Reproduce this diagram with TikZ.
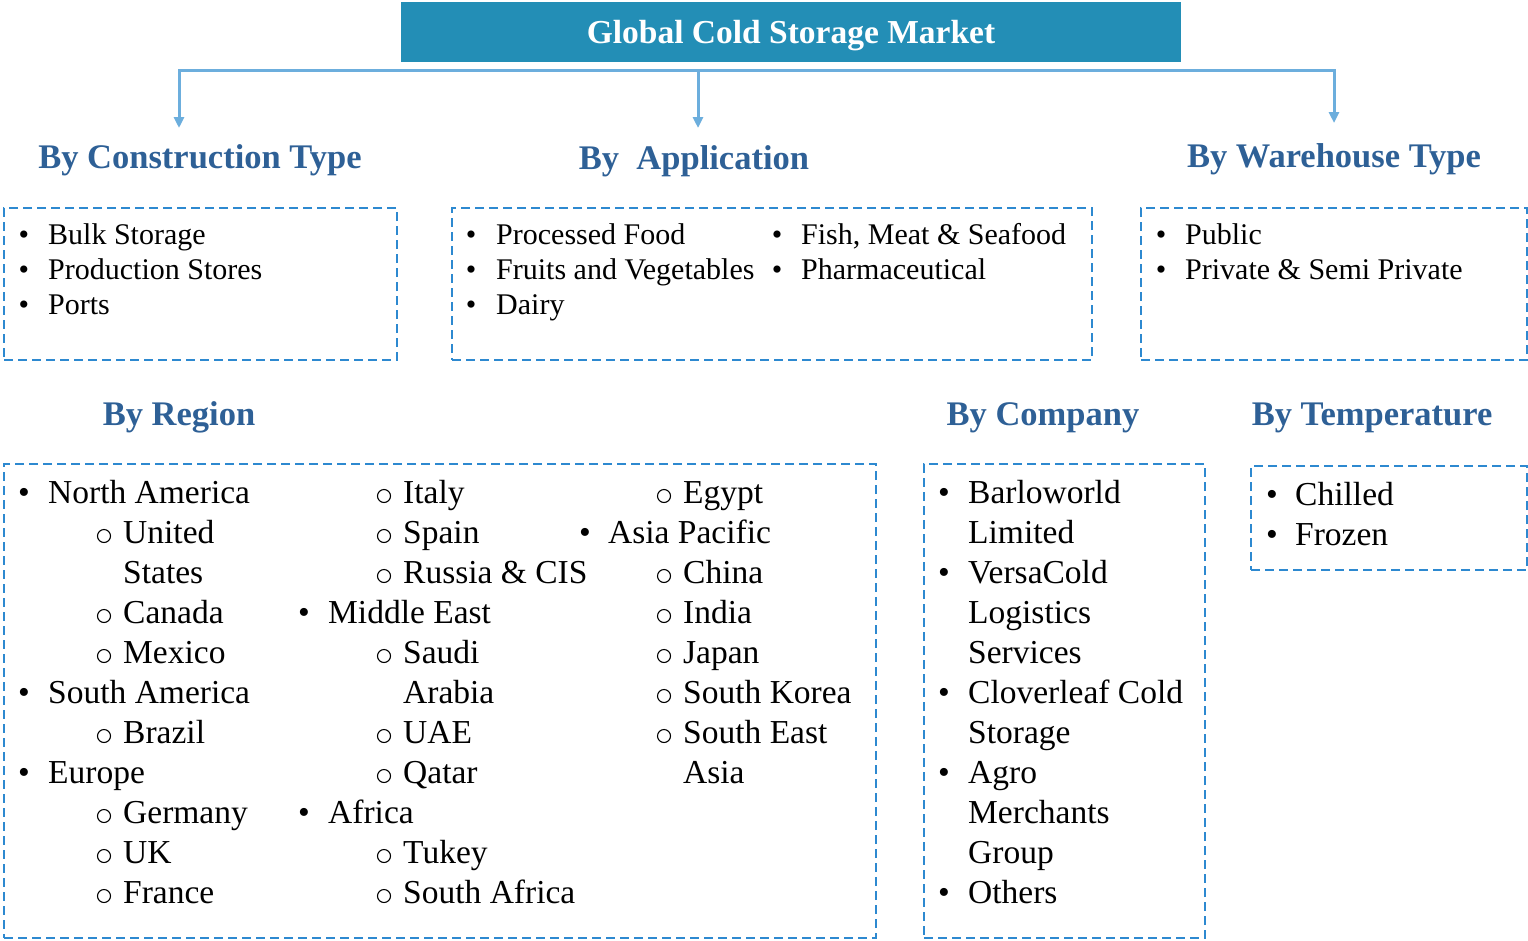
\documentclass[tikz,border=0pt]{standalone}
\usepackage{fontspec}
\setmainfont{Liberation Serif}
\usetikzlibrary{positioning, arrows.meta}

\definecolor{titlebg}{RGB}{35,142,182}
\definecolor{headblue}{RGB}{46,96,150}
\definecolor{linkblue}{RGB}{108,174,221}
\definecolor{dashblue}{RGB}{45,137,208}

\tikzset{
  titlebox/.style={fill=titlebg, text=white, font=\fontsize{33.5}{38}\selectfont\bfseries,
    minimum width=780pt, minimum height=60pt, text height=22pt, text depth=0pt, inner sep=0pt},
  link/.style={draw=linkblue, line width=3pt, -{Triangle[length=11pt,width=10pt]}},
  head/.style={font=\fontsize{34.5}{40}\selectfont\bfseries, text=headblue, inner sep=0pt, anchor=base},
  dbox/.style={draw=dashblue, line width=2pt, dash pattern=on 9pt off 5pt, inner sep=0pt},
  small/.style={font=\fontsize{30}{35}\selectfont, inner sep=0pt, anchor=base west},
  big/.style={font=\fontsize{33.5}{40}\selectfont, inner sep=0pt, anchor=base west},
  bulletmark/.style={anchor=base},
  submark/.style={circle, draw, line width=1.1pt, minimum size=13pt, inner sep=0pt}
}

\begin{document}
\begin{tikzpicture}[x=1pt, y=-1pt]
  \useasboundingbox (0,0) rectangle (1528,940);

  % title and connectors
  \node[titlebox] (title) at (791,32) {Global Cold Storage Market};
  \coordinate (busM) at (698,70);
  \coordinate (tipCon) at (179,128);
  \coordinate (tipApp) at (698,128);
  \coordinate (tipWare) at (1334,123);
  \draw[link] (busM) -| (tipCon);
  \draw[link] (busM) -- (tipApp);
  \draw[link] (busM) -| (tipWare);

  % headings
  \node[head] (hCon) at (200,168) {By Construction Type};
  \node[head] (hApp) at (694,169) {By\ \ Application};
  \node[head] (hWare) at (1334,167) {By Warehouse Type};
  \node[head] (hReg) at (179,425) {By Region};
  \node[head] (hComp) at (1043,425) {By Company};
  \node[head] (hTemp) at (1372,425) {By Temperature};

  % dashed boxes
  \node[dbox, minimum width=393pt, minimum height=152pt] (conBox) at (200.5,284) {};
  \node[dbox, minimum width=640pt, minimum height=152pt] (appBox) at (772,284) {};
  \node[dbox, minimum width=386pt, minimum height=152pt] (wareBox) at (1334,284) {};
  \node[dbox, minimum width=872pt, minimum height=474pt] (regBox) at (440,701) {};
  \node[dbox, minimum width=281pt, minimum height=474pt] (compBox) at (1064.5,701) {};
  \node[dbox, minimum width=276pt, minimum height=104pt] (tempBox) at (1389,518) {};

  % construction type
  \foreach \y/\t [count=\i] in {244/Bulk Storage, 279/Production Stores, 314/Ports}{
    \node[small, bulletmark] (conDot\i) at (24,\y) {\textbullet};
    \node[small] (con\i) at (48,\y) {\t};
  }

  % application
  \foreach \y/\t [count=\i] in {244/Processed Food, 279/Fruits and Vegetables, 314/Dairy}{
    \node[small, bulletmark] (appDot\i) at (471,\y) {\textbullet};
    \node[small] (app\i) at (496,\y) {\t};
  }
  \foreach \y/\t [count=\i] in {244/{Fish, Meat \& Seafood}, 279/Pharmaceutical}{
    \node[small, bulletmark] (appRDot\i) at (777,\y) {\textbullet};
    \node[small] (appR\i) at (801,\y) {\t};
  }

  % warehouse type
  \foreach \y/\t [count=\i] in {244/Public, 279/Private \& Semi Private}{
    \node[small, bulletmark] (wareDot\i) at (1161,\y) {\textbullet};
    \node[small] (ware\i) at (1185,\y) {\t};
  }

  % region, column 1
  \foreach \y/\t [count=\i] in {503/North America, 703/South America, 783/Europe}{
    \node[big, bulletmark] (regADot\i) at (24,\y) {\textbullet};
    \node[big] (regA\i) at (48,\y) {\t};
  }
  \foreach \y/\t [count=\i] in {543/United, 623/Canada, 663/Mexico, 743/Brazil,
      823/Germany, 863/UK, 903/France}{
    \node[submark] (regAo\i) at (104,\y-7) {};
    \node[big] (regAs\i) at (123,\y) {\t};
  }
  \node[big] (regAc1) at (123,583) {States};

  % region, column 2
  \foreach \y/\t [count=\i] in {623/Middle East, 823/Africa}{
    \node[big, bulletmark] (regBDot\i) at (304,\y) {\textbullet};
    \node[big] (regB\i) at (328,\y) {\t};
  }
  \foreach \y/\t [count=\i] in {503/Italy, 543/Spain, 583/Russia \& CIS, 663/Saudi,
      743/UAE, 783/Qatar, 863/Tukey, 903/South Africa}{
    \node[submark] (regBo\i) at (384,\y-7) {};
    \node[big] (regBs\i) at (403,\y) {\t};
  }
  \node[big] (regBc1) at (403,703) {Arabia};

  % region, column 3
  \node[big, bulletmark] (regCDot1) at (585,543) {\textbullet};
  \node[big] (regC1) at (608,543) {Asia Pacific};
  \foreach \y/\t [count=\i] in {503/Egypt, 583/China, 623/India, 663/Japan,
      703/South Korea, 743/South East}{
    \node[submark] (regCo\i) at (664,\y-7) {};
    \node[big] (regCs\i) at (683,\y) {\t};
  }
  \node[big] (regCc1) at (683,783) {Asia};

  % company
  \foreach \y/\t [count=\i] in {503/Barloworld, 583/VersaCold, 703/Cloverleaf Cold,
      783/Agro, 903/Others}{
    \node[big, bulletmark] (compDot\i) at (944,\y) {\textbullet};
    \node[big] (comp\i) at (968,\y) {\t};
  }
  \foreach \y/\t [count=\i] in {543/Limited, 623/Logistics, 663/Services, 743/Storage,
      823/Merchants, 863/Group}{
    \node[big] (compc\i) at (968,\y) {\t};
  }

  % temperature
  \foreach \y/\t [count=\i] in {505/Chilled, 545/Frozen}{
    \node[big, bulletmark] (tempDot\i) at (1272,\y) {\textbullet};
    \node[big] (temp\i) at (1295,\y) {\t};
  }
\end{tikzpicture}
\end{document}
